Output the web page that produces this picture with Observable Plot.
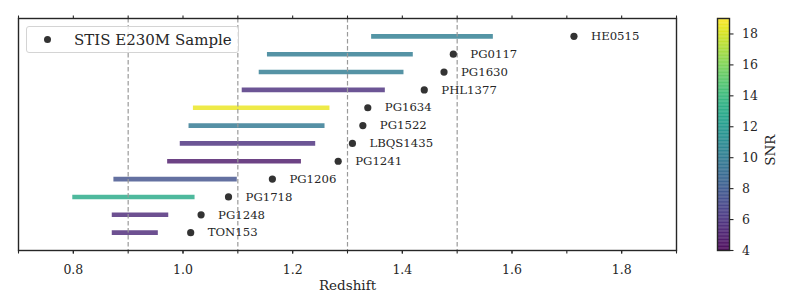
<!DOCTYPE html>
<html>
<head>
<meta charset="utf-8">
<script src="https://cdn.jsdelivr.net/npm/d3@7"></script>
<script src="https://cdn.jsdelivr.net/npm/@observablehq/plot@0.6"></script>
<style>
  html, body { margin: 0; padding: 0; background: #fff; }
  #wrap { position: relative; width: 790px; height: 308px; font-family: "DejaVu Serif", serif; color: #262626; }
  #wrap svg { position: absolute; top: 0; }
  #legend { position: absolute; left: 26px; top: 26px; width: 211px; height: 25px; border: 1px solid #d4d4d4; border-radius: 3px;
            background: rgba(255,255,255,0.8); box-sizing: content-box; }
  #legend .dot { position: absolute; left: 17px; top: 9px; width: 7px; height: 7px; border-radius: 50%; background: #333; }
  #legend .txt { position: absolute; left: 47px; top: 0; line-height: 26px; font-size: 15px; white-space: nowrap; color: #262626; }
</style>
</head>
<body>
<div id="wrap"></div>
<script>
// ---- data ----
const names = ["HE0515","PG0117","PG1630","PHL1377","PG1634","PG1522","LBQS1435","PG1241","PG1206","PG1718","PG1248","TON153"];
const zQso  = [1.713, 1.493, 1.476, 1.440, 1.337, 1.328, 1.309, 1.283, 1.163, 1.083, 1.033, 1.014];
const zMin  = [1.344, 1.154, 1.139, 1.108, 1.019, 1.011, 0.995, 0.972, 0.874, 0.799, 0.871, 0.871];
const zMax  = [1.566, 1.420, 1.403, 1.369, 1.268, 1.259, 1.242, 1.216, 1.099, 1.022, 0.974, 0.955];
const snr   = [10.2, 10.0, 10.0, 5.8, 18.5, 9.8, 5.8, 4.8, 7.5, 13.0, 5.5, 5.5];
const dashedZ = [0.9, 1.1, 1.3, 1.5];
const xTickLabels = [0.8, 1.0, 1.2, 1.4, 1.6, 1.8];
const xMinorTicks = [0.7, 0.8, 0.9, 1.0, 1.1, 1.2, 1.3, 1.4, 1.5, 1.6, 1.7, 1.8, 1.9];
const snrTicks = [4, 6, 8, 10, 12, 14, 16, 18];
const snrDomain = [4, 19];
const legendLabel = "STIS E230M Sample";

const rows = names.map((n, i) => ({name: n, z: zQso[i], z1: zMin[i], z2: zMax[i], snr: snr[i], row: names.length - 1 - i}));
const ink = "#262626";
const font = "DejaVu Serif";

const colorScale = {type: "linear", scheme: "viridis", domain: snrDomain};

const main = Plot.plot({
  width: 790, height: 308,
  marginLeft: 18, marginRight: 114, marginTop: 18, marginBottom: 58,
  style: {fontFamily: font, fontSize: "12.5px", color: ink, background: "transparent"},
  x: {domain: [0.7, 1.9], axis: null},
  y: {domain: [-1, names.length], axis: null},
  color: colorScale,
  marks: [
    Plot.ruleY(rows, {x1: "z1", x2: "z2", y: "row", stroke: "snr", strokeWidth: 4.6, strokeOpacity: 0.8}),
    Plot.ruleX(dashedZ, {x: d => d, stroke: "#9a9a9a", strokeWidth: 1.2, strokeDasharray: "4.5,2.5"}),
    Plot.dot(rows, {x: "z", y: "row", r: 3.6, fill: "#333", stroke: "none"}),
    Plot.text(rows, {x: "z", y: "row", text: "name", dx: 17, textAnchor: "start", fontSize: 11.7, fill: ink}),
    Plot.axisX({anchor: "bottom", ticks: xMinorTicks, tickSize: 3.5, tickFormat: () => "", stroke: ink, strokeWidth: 1.1, label: null}),
    Plot.axisX({anchor: "bottom", ticks: xTickLabels, tickSize: 3.5, tickPadding: 11, tickFormat: d3.format(".1f"), stroke: ink, strokeWidth: 1.1, fill: ink, label: null}),
    Plot.axisX({anchor: "top", ticks: xMinorTicks, tickSize: 3.5, tickFormat: () => "", stroke: ink, strokeWidth: 1.1, label: null}),
    Plot.text(["Redshift"], {frameAnchor: "bottom", dy: 39, fontSize: 13.5, fill: ink}),
    Plot.frame({stroke: ink, strokeWidth: 1.4})
  ]
});

const cells = d3.range(snrDomain[0], snrDomain[1], 0.05);
const cbar = Plot.plot({
  width: 100, height: 308,
  marginLeft: 27, marginRight: 61, marginTop: 18, marginBottom: 58,
  style: {fontFamily: font, fontSize: "12.5px", color: ink, background: "transparent"},
  x: {domain: [0, 1], axis: null},
  y: {domain: snrDomain, axis: null},
  color: colorScale,
  marks: [
    Plot.rect(cells, {x1: 0, x2: 1, y1: d => d, y2: d => d + 0.06, fill: d => d + 0.025}),
    Plot.axisY({anchor: "right", ticks: snrTicks, tickSize: 3.5, tickPadding: 9, stroke: ink, strokeWidth: 1.1, fill: ink, label: null}),
    Plot.text(["SNR"], {frameAnchor: "right", dx: 41, rotate: -90, fontSize: 13.5, fill: ink}),
    Plot.frame({stroke: ink, strokeWidth: 1.4})
  ]
});

const wrap = document.getElementById("wrap");
main.style.left = "0px";
cbar.style.left = "690px";
wrap.appendChild(main);
wrap.appendChild(cbar);

const leg = document.createElement("div");
leg.id = "legend";
leg.innerHTML = `<div class="dot"></div><div class="txt">${legendLabel}</div>`;
wrap.appendChild(leg);
</script>
</body>
</html>
